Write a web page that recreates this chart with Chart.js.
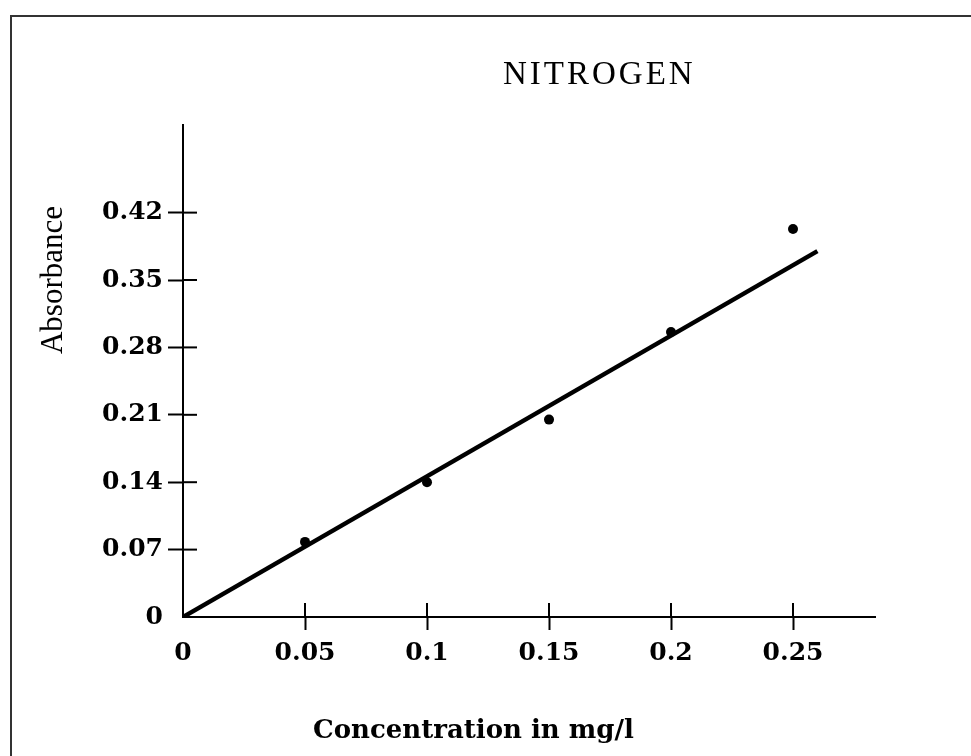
<!DOCTYPE html>
<html>
<head>
<meta charset="utf-8">
<script src="https://cdn.jsdelivr.net/npm/chart.js@4/dist/chart.umd.min.js"></script>
<style>
  html, body { margin: 0; padding: 0; background: #fff; }
  #wrap { position: relative; width: 971px; height: 756px; overflow: hidden; }
  #frame { position: absolute; left: 10px; top: 15px; right: -5px; bottom: -5px;
           border-left: 2px solid #333; border-top: 2px solid #333; }
  .txt { position: absolute; color: #000; white-space: nowrap; }
  #title { left: 503px; top: 55px; font: 33px "Liberation Serif", serif; letter-spacing: 3px; }
  #ytitle { left: 52px; top: 280px; font: 31px "Liberation Serif", serif;
            transform: translate(-50%, -50%) rotate(-90deg); }
  #xtitle { left: 313px; top: 714px; font: bold 26px "DejaVu Serif", serif; }
</style>
</head>
<body>
<div id="wrap">
  <div id="frame"></div>
  <canvas id="nitrogen" width="971" height="756"></canvas>
  <div class="txt" id="title">NITROGEN</div>
  <div class="txt" id="ytitle">Absorbance</div>
  <div class="txt" id="xtitle">Concentration in mg/l</div>
</div>
<script>
// measured points
const concentration = [0.05, 0.1, 0.15, 0.2, 0.25];
const absorbance = [0.078, 0.140, 0.205, 0.296, 0.403];

// fitted line ends
const fitX = [0, 0.26];
const fitY = [0, 0.38];

// tick labels
const xTicks = [0, 0.05, 0.1, 0.15, 0.2, 0.25];
const yTicks = [0, 0.07, 0.14, 0.21, 0.28, 0.35, 0.42];

const tickFont = { family: 'DejaVu Serif', weight: 'bold', size: 25 };

// short tick stubs on the inside of the axes
const innerTicks = {
  id: 'innerTicks',
  afterDatasetsDraw(chart) {
    const { ctx, chartArea, scales } = chart;
    ctx.save();
    ctx.strokeStyle = '#000';
    ctx.lineWidth = 2;
    yTicks.forEach(v => {
      if (v === 0) return;
      const py = scales.y.getPixelForValue(v);
      ctx.beginPath();
      ctx.moveTo(chartArea.left, py);
      ctx.lineTo(chartArea.left + 14, py);
      ctx.stroke();
    });
    xTicks.forEach(v => {
      if (v === 0) return;
      const px = scales.x.getPixelForValue(v);
      ctx.beginPath();
      ctx.moveTo(px, chartArea.bottom);
      ctx.lineTo(px, chartArea.bottom - 14);
      ctx.stroke();
    });
    ctx.restore();
  }
};

const tickColor = c => (c.tick && c.tick.value === 0) ? 'rgba(0,0,0,0)' : '#000';

const ctx = document.getElementById('nitrogen').getContext('2d');
new Chart(ctx, {
  data: {
    datasets: [{
      type: 'line',
      data: fitX.map((x, i) => ({ x: x, y: fitY[i] })),
      borderColor: '#000',
      borderWidth: 4.5,
      pointRadius: 0,
      fill: false
    }, {
      type: 'scatter',
      data: concentration.map((x, i) => ({ x: x, y: absorbance[i] })),
      backgroundColor: '#000',
      borderWidth: 0,
      pointRadius: 5
    }]
  },
  options: {
    responsive: false,
    animation: false,
    layout: { padding: { left: 20, top: 125, right: 96, bottom: 0 } },
    plugins: {
      legend: { display: false },
      tooltip: { enabled: false }
    },
    scales: {
      x: {
        type: 'linear',
        min: 0,
        max: 0.2836,
        afterFit: s => { s.height = 139; },
        afterBuildTicks: s => { s.ticks = xTicks.map(v => ({ value: v })); },
        border: { display: true, color: '#000', width: 2 },
        grid: { drawOnChartArea: false, tickLength: 13, tickWidth: 2, tickColor: tickColor },
        ticks: {
          color: '#000',
          font: tickFont,
          padding: 8,
          maxRotation: 0,
          callback: v => String(v)
        }
      },
      y: {
        type: 'linear',
        min: 0,
        max: 0.511,
        afterFit: s => { s.width = 163; },
        afterBuildTicks: s => { s.ticks = yTicks.map(v => ({ value: v })); },
        border: { display: true, color: '#000', width: 2 },
        grid: { drawOnChartArea: false, tickLength: 15, tickWidth: 2, tickColor: tickColor },
        ticks: {
          color: '#000',
          font: tickFont,
          padding: 5,
          callback: v => String(v)
        }
      }
    }
  },
  plugins: [innerTicks]
});
</script>
</body>
</html>
